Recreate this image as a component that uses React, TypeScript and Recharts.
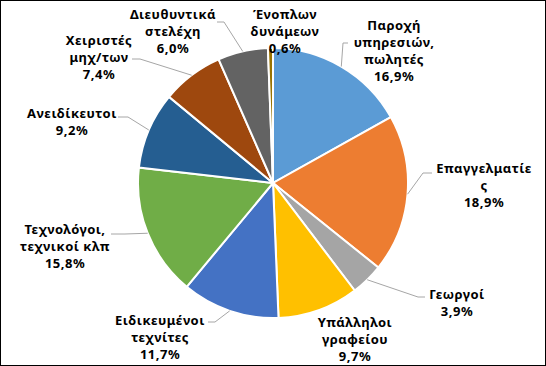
import React from "react";
import { PieChart, Pie, Cell } from "recharts";

// slices, clockwise from 12 o'clock
const categories = [
  "Παροχή υπηρεσιών, πωλητές",
  "Επαγγελματίες",
  "Γεωργοί",
  "Υπάλληλοι γραφείου",
  "Ειδικευμένοι τεχνίτες",
  "Τεχνολόγοι, τεχνικοί κλπ",
  "Ανειδίκευτοι",
  "Χειριστές μηχ/των",
  "Διευθυντικά στελέχη",
  "Ένοπλων δυνάμεων",
];
const shares = [16.9, 18.9, 3.9, 9.7, 11.7, 15.8, 9.2, 7.4, 6.0, 0.6];

// label text as wrapped in the original
const labelLines = [
  ["Παροχή", "υπηρεσιών,", "πωλητές"],
  ["Επαγγελματίε", "ς"],
  ["Γεωργοί"],
  ["Υπάλληλοι", "γραφείου"],
  ["Ειδικευμένοι", "τεχνίτες"],
  ["Τεχνολόγοι,", "τεχνικοί κλπ"],
  ["Ανειδίκευτοι"],
  ["Χειριστές", "μηχ/των"],
  ["Διευθυντικά", "στελέχη"],
  ["Ένοπλων", "δυνάμεων"],
];

const colors = [
  "#5B9BD5", "#ED7D31", "#A5A5A5", "#FFC000", "#4472C4",
  "#70AD47", "#255E91", "#9E480E", "#636363", "#997300",
];

// label placement: centre of first text line, leader elbow + end (null = no leader)
const labelLayout: { x: number; y: number; leader: number[] | null }[] = [
  { x: 394, y: 25, leader: [343, 43, 348, 43] },
  { x: 484, y: 168, leader: [423, 173, 432, 173] },
  { x: 457, y: 294, leader: [418, 297, 425, 297] },
  { x: 355, y: 322, leader: null },
  { x: 160, y: 320, leader: [215, 322, 208, 322] },
  { x: 65, y: 229, leader: [125, 234, 111, 234] },
  { x: 72, y: 113, leader: [128, 117, 118, 117] },
  { x: 99, y: 40, leader: [140, 59, 132, 59] },
  { x: 173, y: 14, leader: [224, 22, 217, 22] },
  { x: 285, y: 14, leader: null },
];

const data = categories.map((name, i) => ({ name, value: shares[i] }));

const fmt = (v: number) => v.toFixed(1).replace(".", ",") + "%";

const labelStyle: React.CSSProperties = {
  fontFamily: "'Noto Sans', sans-serif",
  fontSize: 13,
  fontWeight: 700,
  letterSpacing: 0.5,
};

function renderLabel(props: any) {
  const { cx, cy, midAngle, outerRadius, index, value } = props;
  const lay = labelLayout[index];
  const rad = Math.PI / 180;
  const ex = cx + outerRadius * Math.cos(-midAngle * rad);
  const ey = cy + outerRadius * Math.sin(-midAngle * rad);
  const lines = [...labelLines[index], fmt(value)];
  return (
    <g key={"lbl" + index}>
      {lay.leader && (
        <polyline
          points={`${ex},${ey} ${lay.leader[0]},${lay.leader[1]} ${lay.leader[2]},${lay.leader[3]}`}
          fill="none"
          stroke="#a6a6a6"
          strokeWidth={1}
        />
      )}
      <text x={lay.x} y={lay.y + 5} textAnchor="middle" fill="#000" style={labelStyle}>
        {lines.map((l, i) => (
          <tspan key={i} x={lay.x} dy={i === 0 ? 0 : 17}>
            {l}
          </tspan>
        ))}
      </text>
    </g>
  );
}

export default function App() {
  return (
    <div style={{ position: "absolute", left: 0, top: 0, width: 546, height: 366, background: "#fff" }}>
      <PieChart width={546} height={366} margin={{ top: 0, right: 0, bottom: 0, left: 0 }}>
        <Pie
          data={data}
          dataKey="value"
          nameKey="name"
          cx={273}
          cy={183}
          outerRadius={135}
          startAngle={90}
          endAngle={-270}
          stroke="#fff"
          strokeWidth={2}
          label={renderLabel}
          labelLine={false}
          isAnimationActive={false}
        >
          {data.map((d, i) => (
            <Cell key={d.name} fill={colors[i]} />
          ))}
        </Pie>
      </PieChart>
      <div
        style={{
          position: "absolute",
          left: 0,
          top: 0,
          width: 546,
          height: 366,
          boxSizing: "border-box",
          border: "1px solid #000",
          pointerEvents: "none",
        }}
      />
    </div>
  );
}
